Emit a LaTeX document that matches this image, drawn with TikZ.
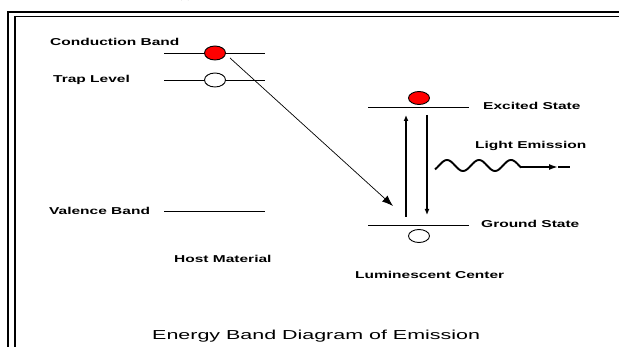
\documentclass[tikz,border=0pt]{standalone}
\usepackage{fontspec}
\setmainfont{Liberation Sans}
\newfontfamily\labelFont{Liberation Sans}[FakeStretch=1.55]
\newfontfamily\titleFont{Liberation Sans}[FakeStretch=1.65]
\usetikzlibrary{shapes.geometric, arrows.meta}

\begin{document}
\begin{tikzpicture}[x=1pt, y=-1pt,
    levelLine/.style={line width=0.9pt},
    bandLabel/.style={font=\labelFont\bfseries\fontsize{10}{11}\selectfont, inner sep=0pt, anchor=west},
    electron/.style={ellipse, draw, line width=0.9pt, minimum width=21pt, minimum height=14pt, inner sep=0pt}]
    % Define colours
    \definecolor{borderColour}{HTML}{000000}
    \definecolor{electronColour}{HTML}{FF0000}

    % Macros for the two level columns
    \def\hostLeft{164} % left end of the host levels
    \def\hostRight{265} % right end of the host levels
    \def\centerLeft{368} % left end of the centre levels
    \def\centerRight{469} % right end of the centre levels

    \useasboundingbox (0,0) rectangle (619,347);

  % Draw the double frame (cut off on the right and at the bottom)
  \draw[borderColour, line width=1.3pt] (8,347) -- (8,12) -- (619,12);
  \draw[borderColour, line width=1.3pt] (15,347) -- (15,16.5) -- (619,16.5);
  \node (panel) at (185,-4) {(a)};

  % Host levels
  \draw[levelLine] (\hostLeft,53) -- (\hostRight,53);
  \draw[levelLine] (\hostLeft,80) -- (\hostRight,80);
  \draw[levelLine] (\hostLeft,211) -- (\hostRight,211);

  % Centre levels
  \draw[levelLine] (\centerLeft,107) -- (\centerRight,107);
  \draw[levelLine] (\centerLeft,225) -- (\centerRight,225);

  % Electrons and holes
  \node[electron, fill=electronColour] (cbElectron) at (215,53) {};
  \node[electron, fill=white] (trapHole) at (215,80) {};
  \node[electron, fill=electronColour, minimum height=13pt] (esElectron) at (419,98) {};
  \node[electron, fill=white, minimum height=13pt] (gsHole) at (419,236) {};

  % Labels of the levels
  \path (50,42) node[bandLabel] (cbLabel) {Conduction Band};
  \path (53,80) node[bandLabel] (trapLabel) {Trap Level};
  \path (49,211) node[bandLabel] (vbLabel) {Valence Band};
  \path (174,259) node[bandLabel] (hostLabel) {Host Material};
  \path (483,106) node[bandLabel] (esLabel) {Excited State};
  \path (475,146) node[bandLabel] (lightLabel) {Light Emission};
  \path (481,224) node[bandLabel] (gsLabel) {Ground State};
  \path (355,275) node[bandLabel] (lumLabel) {Luminescent Center};

  % Transfer from the conduction band to the centre
  \coordinate (jumpStart) at (230,58);
  \coordinate (jumpEnd) at (393,206);
  \draw[line width=0.7pt, -{Latex[length=11pt, width=8pt]}] (jumpStart) -- (jumpEnd);

  % Excitation and relaxation inside the centre
  \coordinate (upBottom) at (406,217);
  \coordinate (upTop) at (406,115);
  \coordinate (downTop) at (427,115);
  \coordinate (downBottom) at (427,215);
  \draw[line width=1.3pt, -{Latex[length=6pt, width=5pt]}] (upBottom) -- (upTop);
  \draw[line width=1.3pt, -{Latex[length=6pt, width=5pt]}] (downTop) -- (downBottom);

  % Emitted photon
  \coordinate (waveEnd) at (521,167);
  \coordinate (photonTip) at (558,167);
  \coordinate (photonEnd) at (570,167);
  \draw[line width=1.9pt, domain=435:521, samples=80, smooth]
    plot (\x, {165.5 - 5.5*cos(11.25*(\x-447))});
  \draw[line width=1.6pt, -{Latex[length=9pt, width=6pt]}] (waveEnd) -- (photonTip);
  \draw[line width=1.6pt] (photonTip) -- (photonEnd);

  % Caption
  \node[font=\titleFont\fontsize{13}{14}\selectfont, inner sep=0pt, anchor=west] (caption) at (152,336) {Energy Band Diagram of Emission};

\end{tikzpicture}
\end{document}
